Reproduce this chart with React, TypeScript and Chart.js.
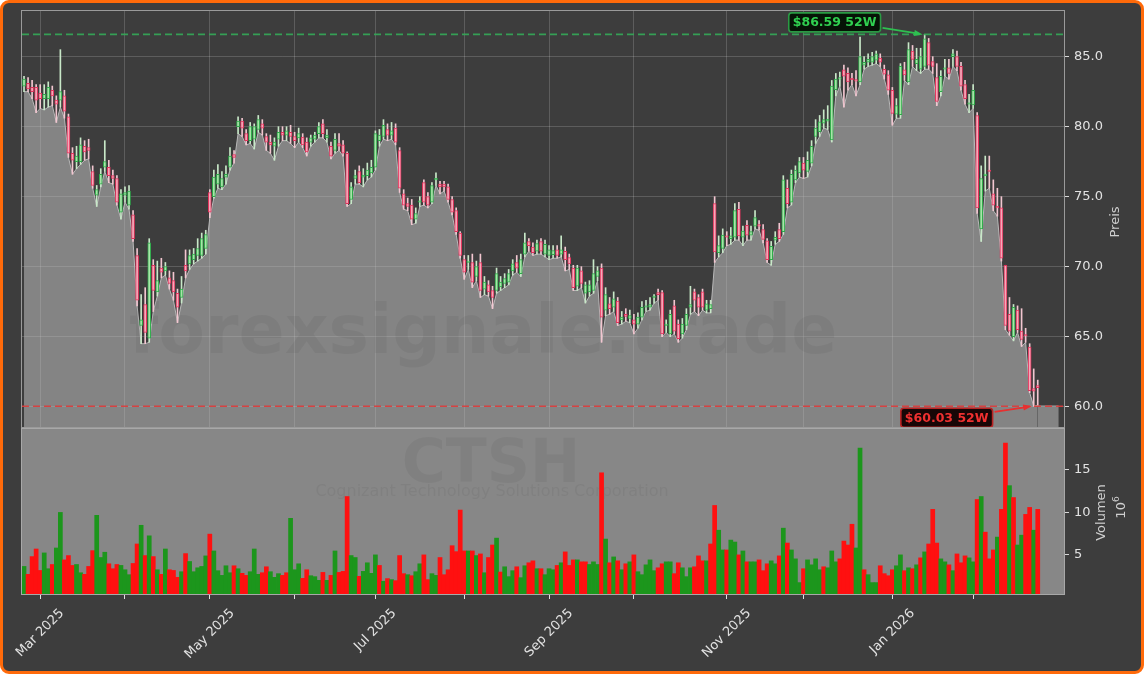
import React, { useEffect, useRef } from 'react';
import { Chart, registerables } from 'chart.js';

Chart.register(...registerables);

const FONT = "'DejaVu Sans', sans-serif";
Chart.defaults.font.family = FONT;

// ---------- calendar ----------
const START_DATE = '2025-02-25';
const END_DATE = '2026-02-25';
const HOLIDAYS = ['2025-04-18', '2025-05-26', '2025-06-19', '2025-07-04', '2025-09-01', '2025-11-27', '2025-12-25', '2026-01-01', '2026-01-19', '2026-02-16'];
const MONTHS = ['Jan', 'Feb', 'Mar', 'Apr', 'May', 'Jun', 'Jul', 'Aug', 'Sep', 'Oct', 'Nov', 'Dec'];
const MAJOR_TICK_LABELS = ['Mar 2025', 'May 2025', 'Jul 2025', 'Sep 2025', 'Nov 2025', 'Jan 2026'];

// ---------- OHLC (USD) ----------
const OPEN = [
  82.9, 83.1, 82.8, 82.8, 82.4, 82.0, 82.0, 82.6, 81.9, 81.9,
  82.2, 80.7, 78.1, 77.5, 77.5, 78.6, 78.5, 76.8, 75.1, 75.9,
  77.1, 77.1, 76.5, 76.3, 73.9, 75.1, 74.4, 73.7, 70.8, 65.8,
  67.3, 64.9, 70.1, 68.2, 69.9, 69.7, 69.2, 69.0, 68.1, 67.8,
  70.1, 70.2, 70.5, 70.8, 70.8, 71.3, 75.3, 75.0, 75.9, 75.7,
  76.4, 77.1, 78.0, 80.0, 80.4, 79.5, 79.0, 79.1, 79.8, 80.2,
  79.3, 78.9, 78.6, 79.1, 79.6, 79.4, 79.6, 79.3, 79.2, 79.25,
  78.9, 78.9, 79.1, 79.5, 80.2, 79.2, 78.6, 78.3, 78.8, 78.7,
  78.1, 74.8, 76.3, 76.8, 76.4, 76.5, 76.7, 77.1, 79.0, 79.3,
  79.8, 79.4, 79.9, 78.3, 75.2, 74.5, 74.4, 73.4, 74.6, 76.0,
  75.0, 74.6, 76.2, 75.9, 75.9, 75.7, 74.8, 74.0, 72.4, 70.5,
  70.3, 70.3, 69.3, 70.3, 68.4, 68.7, 68.3, 68.3, 68.55, 68.8,
  68.9, 69.7, 70.3, 69.5, 70.9, 71.8, 71.4, 71.1, 71.8, 70.9,
  70.8, 70.85, 71.2, 70.9, 71.1, 70.65, 69.9, 68.6, 69.7, 68.1,
  68.2, 68.3, 69.3, 69.9, 66.9, 67.35, 67.1, 67.55, 66.2, 66.6,
  66.3, 66.2, 65.9, 66.4, 67.1, 67.1, 67.8, 68.15, 68.15, 65.8,
  65.2, 67.2, 65.9, 65.2, 65.8, 67.1, 68.2, 67.8, 68.2, 66.9,
  67.0, 74.5, 71.0, 71.3, 72.2, 72.0, 72.1, 74.1, 72.1, 72.95,
  72.25, 72.9, 73.0, 72.65, 71.85, 70.5, 71.9, 72.65, 72.5, 75.6,
  74.6, 76.2, 76.7, 77.4, 76.8, 77.4, 79.3, 79.65, 80.25, 80.4,
  79.05, 82.65, 83.4, 84.05, 83.8, 83.4, 83.3, 83.2, 84.4, 84.6,
  84.6, 84.75, 84.9, 84.1, 83.7, 82.6, 80.9, 80.85, 84.05, 83.2,
  85.4, 84.5, 84.1, 84.3, 86.0, 84.65, 83.5, 82.5, 84.1, 84.2,
  85.0, 85.0, 84.3, 83.0, 81.6, 81.55, 80.8, 72.7, 76.5, 76.9,
  75.2, 74.3, 74.2, 70.1, 66.6, 65.0, 66.9, 65.4, 65.15, 64.25,
  61.3, 61.5,
];
const HIGH = [
  83.6, 83.5, 83.3, 83.0, 83.0, 83.0, 83.2, 82.9, 82.2, 85.5,
  82.6, 80.9, 78.5, 78.6, 79.2, 79.0, 79.1, 77.2, 75.8, 77.0,
  79.0, 77.6, 76.9, 76.5, 75.5, 75.7, 75.8, 74.0, 71.3, 68.0,
  68.5, 72.0, 70.5, 70.4, 70.6, 70.3, 69.7, 69.6, 68.4, 69.3,
  71.2, 71.2, 71.3, 72.0, 72.4, 72.6, 75.5, 76.9, 77.3, 76.8,
  77.2, 78.5, 78.3, 80.7, 80.6, 79.8, 80.3, 80.2, 80.8, 80.5,
  79.5, 79.4, 79.2, 80.0, 80.0, 80.0, 80.1, 79.6, 79.9, 79.5,
  79.2, 79.4, 79.6, 80.3, 80.5, 79.8, 78.9, 79.5, 79.5, 79.0,
  78.2, 76.0, 76.9, 77.2, 77.0, 77.4, 77.6, 79.7, 79.8, 80.5,
  80.2, 80.3, 80.2, 78.5, 75.5, 74.9, 74.8, 74.2, 75.0, 76.2,
  75.3, 76.0, 76.7, 76.1, 76.1, 75.9, 75.0, 74.2, 72.5, 70.8,
  70.8, 70.9, 70.4, 70.9, 69.3, 69.0, 68.6, 69.9, 69.3, 69.5,
  69.8, 70.5, 70.8, 70.9, 72.4, 72.0, 71.7, 71.9, 72.0, 71.9,
  71.5, 71.5, 71.5, 72.2, 71.4, 70.9, 70.1, 70.1, 70.0, 68.9,
  69.0, 70.5, 70.0, 70.2, 68.5, 67.8, 68.2, 67.8, 66.8, 67.0,
  66.9, 66.6, 66.7, 67.5, 67.6, 67.8, 68.0, 68.4, 68.3, 66.2,
  66.9, 67.6, 66.2, 66.3, 67.0, 68.6, 68.4, 68.0, 68.4, 67.6,
  67.6, 75.0, 72.2, 72.7, 72.5, 72.8, 74.5, 74.6, 72.9, 73.3,
  72.9, 74.0, 73.3, 73.0, 72.0, 71.8, 72.5, 73.1, 76.5, 76.2,
  76.9, 77.2, 77.8, 77.8, 78.2, 79.0, 80.5, 80.8, 81.2, 81.5,
  83.3, 83.8, 83.9, 84.4, 84.2, 83.8, 84.0, 86.4, 85.0, 85.2,
  85.3, 85.4, 85.2, 84.4, 84.0, 82.8, 82.0, 84.5, 84.6, 86.0,
  85.8, 85.6, 85.6, 86.59, 86.3, 85.0, 84.5, 84.0, 84.8, 84.8,
  85.5, 85.4, 84.6, 83.3, 82.3, 83.0, 81.0, 77.2, 77.9, 77.9,
  76.2, 75.6, 75.0, 70.1, 67.8, 67.3, 67.2, 67.0, 65.6, 64.5,
  62.7, 61.9,
];
const LOW = [
  82.5, 82.5, 82.0, 81.0, 81.3, 81.2, 81.4, 81.5, 80.3, 81.4,
  80.6, 77.8, 76.6, 77.0, 77.3, 77.6, 77.7, 75.6, 74.3, 75.7,
  76.8, 76.0, 75.9, 74.4, 73.4, 74.6, 74.1, 71.8, 67.2, 64.5,
  64.5, 64.6, 66.8, 67.9, 69.2, 69.4, 68.4, 67.6, 66.0, 67.4,
  69.2, 69.8, 70.2, 70.4, 70.6, 70.9, 73.5, 74.9, 75.6, 75.5,
  75.9, 76.9, 77.4, 79.5, 79.3, 78.7, 78.8, 78.4, 79.6, 79.4,
  78.3, 78.1, 77.6, 78.6, 79.0, 79.0, 78.8, 78.5, 78.9, 78.5,
  77.9, 78.6, 78.9, 79.2, 79.2, 78.9, 77.7, 78.1, 78.3, 77.9,
  74.3, 74.5, 75.9, 75.9, 75.7, 76.2, 76.4, 76.9, 78.6, 79.1,
  79.0, 79.1, 78.7, 75.3, 74.1, 74.0, 73.0, 73.1, 74.3, 74.4,
  74.2, 74.5, 75.8, 75.2, 75.4, 74.6, 73.7, 72.3, 70.6, 69.1,
  69.8, 68.5, 69.0, 67.8, 68.0, 67.9, 67.0, 68.1, 68.3, 68.5,
  68.7, 69.4, 69.6, 69.3, 70.7, 71.1, 70.8, 70.9, 70.9, 70.7,
  70.5, 70.6, 70.6, 70.7, 69.7, 69.8, 68.3, 68.3, 68.5, 67.4,
  67.9, 68.1, 69.0, 64.6, 66.5, 66.6, 66.8, 65.8, 65.9, 66.1,
  66.0, 65.2, 65.6, 66.2, 66.8, 66.9, 67.4, 67.6, 65.0, 65.3,
  65.0, 65.2, 64.6, 64.9, 65.5, 66.6, 66.8, 66.5, 66.9, 66.7,
  66.7, 70.3, 70.7, 71.0, 71.5, 71.6, 71.9, 71.9, 71.5, 71.9,
  71.9, 72.7, 72.6, 71.7, 70.3, 70.1, 71.6, 71.8, 72.3, 74.2,
  74.4, 76.0, 76.4, 76.3, 76.4, 77.2, 78.8, 79.3, 79.9, 79.8,
  78.9, 82.2, 82.9, 81.4, 82.6, 83.0, 82.2, 83.0, 84.1, 84.3,
  84.4, 84.5, 84.3, 83.4, 82.3, 80.1, 80.6, 80.6, 83.3, 83.0,
  84.3, 84.0, 83.8, 84.1, 84.1, 83.8, 81.5, 82.2, 83.6, 83.4,
  84.3, 84.0, 82.6, 81.6, 81.0, 81.3, 73.8, 71.8, 75.4, 75.6,
  74.0, 73.6, 70.4, 65.5, 65.1, 64.7, 65.3, 64.3, 64.6, 61.0,
  60.03, 60.1,
];
const CLOSE = [
  83.4, 82.7, 82.5, 81.9, 82.0, 82.3, 82.8, 82.2, 81.6, 82.5,
  81.1, 78.1, 77.6, 77.9, 78.7, 78.2, 78.3, 75.8, 75.5, 76.6,
  77.5, 76.5, 76.3, 74.6, 75.2, 75.3, 75.4, 72.0, 67.6, 66.2,
  65.3, 71.7, 68.3, 69.0, 69.6, 70.0, 68.8, 68.2, 67.1, 68.4,
  69.7, 70.8, 70.9, 71.3, 72.0, 72.3, 73.9, 76.4, 76.6, 76.3,
  76.6, 77.9, 77.8, 80.4, 79.9, 79.0, 80.0, 80.0, 80.5, 79.9,
  78.9, 78.7, 78.9, 79.6, 79.4, 79.7, 79.3, 79.0, 79.5, 78.7,
  78.2, 79.2, 79.4, 80.0, 79.5, 79.4, 77.9, 79.1, 78.6, 78.1,
  74.5, 75.7, 76.5, 76.0, 76.55, 76.9, 77.1, 79.5, 79.4, 80.1,
  79.4, 79.7, 78.9, 75.6, 74.4, 74.3, 73.4, 73.8, 74.7, 74.6,
  74.4, 75.8, 76.3, 75.7, 75.7, 74.8, 73.9, 72.5, 70.8, 69.6,
  70.4, 68.9, 70.0, 68.3, 68.9, 68.2, 67.8, 69.5, 68.9, 69.15,
  69.5, 70.2, 69.9, 70.5, 71.7, 71.5, 71.0, 71.65, 71.1, 71.6,
  71.2, 71.15, 70.8, 71.2, 70.5, 70.2, 68.5, 69.9, 68.8, 68.7,
  68.7, 69.5, 69.7, 66.4, 68.0, 67.0, 67.7, 66.0, 66.4, 66.45,
  66.5, 65.9, 66.4, 67.1, 67.2, 67.3, 67.9, 68.0, 65.2, 65.9,
  66.6, 65.4, 64.85, 65.9, 66.6, 67.3, 67.6, 67.1, 67.1, 67.35,
  67.3, 71.05, 71.5, 72.25, 72.1, 72.2, 74.0, 72.2, 72.55, 72.25,
  72.5, 73.5, 72.9, 71.95, 70.5, 71.45, 72.1, 72.0, 76.2, 74.5,
  76.6, 76.9, 77.5, 76.9, 77.6, 78.6, 79.9, 80.35, 80.5, 80.55,
  82.9, 83.4, 83.5, 83.6, 83.2, 83.35, 83.25, 85.0, 84.6, 84.8,
  85.0, 85.2, 84.6, 83.75, 82.6, 80.95, 81.5, 84.3, 83.7, 85.5,
  84.8, 84.8, 85.0, 86.27, 84.4, 84.3, 81.8, 83.6, 84.2, 83.8,
  85.2, 84.3, 82.9, 82.0, 81.7, 82.6, 74.2, 76.3, 76.6, 76.8,
  74.4, 74.2, 70.6, 65.8, 65.4, 67.1, 65.5, 64.8, 65.05, 61.15,
  61.1, 61.35,
];

// ---------- volume (millions) ----------
const VOLUME = [
  3.64, 2.71, 4.80, 5.69, 3.17, 5.23, 3.37, 3.87, 5.81, 9.99,
  4.41, 4.92, 3.76, 3.87, 2.90, 2.71, 3.64, 5.50, 9.65, 4.69,
  5.31, 3.95, 3.37, 3.87, 3.76, 3.25, 2.67, 3.99, 6.28, 8.48,
  4.92, 7.24, 4.80, 3.25, 2.71, 5.69, 3.25, 3.17, 2.36, 3.02,
  5.15, 4.22, 3.02, 3.48, 3.64, 4.88, 7.44, 5.46, 3.14, 2.59,
  3.72, 2.90, 3.72, 3.37, 2.83, 2.59, 3.02, 5.69, 2.71, 2.90,
  3.60, 3.02, 2.36, 2.79, 2.59, 2.90, 9.30, 3.25, 3.95, 2.24,
  3.25, 2.55, 2.44, 2.01, 2.94, 2.01, 2.59, 5.46, 2.94, 3.06,
  11.86, 4.92, 4.69, 2.48, 3.06, 4.07, 2.83, 5.00, 3.76, 1.90,
  2.21, 2.09, 1.97, 4.92, 2.79, 2.67, 2.55, 3.02, 3.95, 5.00,
  2.09, 2.79, 2.59, 4.69, 2.67, 3.25, 6.08, 5.38, 10.27, 5.46,
  5.46, 5.46, 4.92, 5.11, 2.90, 4.69, 6.16, 6.97, 2.98, 3.60,
  2.44, 3.14, 3.60, 2.32, 3.72, 4.07, 4.30, 3.37, 3.37, 2.67,
  3.37, 3.25, 3.76, 4.07, 5.35, 3.76, 4.41, 4.41, 4.18, 4.18,
  3.87, 4.18, 3.87, 14.65, 6.86, 4.07, 4.76, 4.30, 3.25, 3.95,
  4.18, 5.00, 3.02, 2.67, 3.83, 4.41, 3.14, 3.48, 3.95, 4.18,
  4.18, 2.79, 4.07, 3.48, 2.44, 3.48, 3.60, 4.88, 4.30, 4.30,
  6.28, 10.81, 7.90, 5.58, 5.58, 6.74, 6.51, 5.00, 5.46, 4.18,
  4.18, 4.18, 4.41, 3.14, 3.95, 4.30, 3.95, 4.88, 8.14, 6.39,
  5.58, 4.53, 1.74, 3.37, 4.41, 3.83, 4.53, 3.25, 3.60, 3.48,
  5.46, 4.18, 4.53, 6.62, 6.16, 8.60, 5.81, 17.55, 3.25, 2.67,
  1.74, 1.74, 3.72, 2.79, 2.55, 3.25, 3.72, 5.00, 3.14, 3.48,
  3.37, 3.83, 4.65, 5.35, 6.28, 10.35, 6.39, 4.53, 4.18, 3.83,
  3.14, 5.11, 4.07, 4.88, 4.65, 4.18, 11.51, 11.86, 7.67, 4.53,
  5.58, 7.09, 10.35, 18.14, 13.14, 11.74, 6.16, 7.32, 9.76, 10.58,
  7.90, 10.35,
];
// g = green (up) bar, r = red (down) bar
const VOLUME_DIR = [
  'grrrrggrgg', 'rrrggrrrgg', 'grrrgggrrg', 'rgrgrgrrrg', 'rgggggrggg',
  'ggrgrrgggr', 'rgggrrgggr', 'rgggrgrgrr', 'rggrggggrg', 'rgrrrgrggr',
  'rggrrrrrrr', 'grgrgrrgrg', 'ggrggrrgrg', 'ggrgrrrgrr', 'gggrgrgrgr',
  'grgggggrrg', 'grrgggrrrg', 'rrggrggrgr', 'ggrrrggrgr', 'gggrggggrg',
  'ggrrrrggrg', 'ggrrrrggrg', 'rgrgrrrggr', 'grrrggrgrr', 'rgrrgrggrr',
  'gr',
].join('');

const PRICE_TICKS = [60, 65, 70, 75, 80, 85];
const VOLUME_TICKS = [5, 10, 15];
const PRICE_MIN = 58.55;
const PRICE_MAX = 88.26;
const VOLUME_MIN = 0.4;
const VOLUME_MAX = 19.8;
const X_MIN = -0.5;
const X_MAX = 257.5;

const TICKER = 'CTSH';
const COMPANY = 'Cognizant Technology Solutions Corporation';
const WATERMARK = 'forexsignale.trade';
const PRICE_TITLE = 'Preis';
const VOLUME_TITLE = 'Volumen';

// ---------- colours ----------
const BG = '#3d3d3d';
const GRID = 'rgba(255,255,255,0.17)';
const UP_FILL = '#a9e4a9';
const UP_EDGE = '#2faa4a';
const DOWN_FILL = '#f6a9ba';
const DOWN_EDGE = '#e2335c';
const UP_WICK = '#c8e8c8';
const DOWN_WICK = '#f2c6d0';
const VOL_UP = '#1c961c';
const VOL_DOWN = '#ff1010';

function buildTradingDays(): string[] {
  const out: string[] = [];
  const d = new Date(START_DATE + 'T12:00:00Z');
  const end = new Date(END_DATE + 'T12:00:00Z');
  while (d.getTime() <= end.getTime()) {
    const wd = d.getUTCDay();
    const iso = d.toISOString().slice(0, 10);
    if (wd !== 0 && wd !== 6 && HOLIDAYS.indexOf(iso) < 0) out.push(iso);
    d.setUTCDate(d.getUTCDate() + 1);
  }
  return out;
}

const DAYS = buildTradingDays();

function monthStarts(): { idx: number; label: string }[] {
  const res: { idx: number; label: string }[] = [];
  for (let i = 1; i < DAYS.length; i++) {
    if (DAYS[i].slice(0, 7) !== DAYS[i - 1].slice(0, 7)) {
      const y = DAYS[i].slice(0, 4);
      const m = parseInt(DAYS[i].slice(5, 7), 10);
      res.push({ idx: i, label: `${MONTHS[m - 1]} ${y}` });
    }
  }
  return res;
}
const MONTH_TICKS = monthStarts();

function roundRect(ctx: CanvasRenderingContext2D, x: number, y: number, w: number, h: number, r: number) {
  ctx.beginPath();
  ctx.moveTo(x + r, y);
  ctx.lineTo(x + w - r, y);
  ctx.quadraticCurveTo(x + w, y, x + w, y + r);
  ctx.lineTo(x + w, y + h - r);
  ctx.quadraticCurveTo(x + w, y + h, x + w - r, y + h);
  ctx.lineTo(x + r, y + h);
  ctx.quadraticCurveTo(x, y + h, x, y + h - r);
  ctx.lineTo(x, y + r);
  ctx.quadraticCurveTo(x, y, x + r, y);
  ctx.closePath();
}

function drawTag(ctx: CanvasRenderingContext2D, text: string, cx: number, cy: number, color: string, fill: string, stroke: string) {
  ctx.save();
  ctx.font = `bold 12.5px ${FONT}`;
  const w = ctx.measureText(text).width + 8;
  const h = 19;
  roundRect(ctx, cx - w / 2, cy - h / 2, w, h, 3);
  ctx.fillStyle = fill;
  ctx.fill();
  ctx.lineWidth = 1.6;
  ctx.strokeStyle = stroke;
  ctx.stroke();
  ctx.fillStyle = color;
  ctx.textAlign = 'center';
  ctx.textBaseline = 'middle';
  ctx.fillText(text, cx, cy + 0.5);
  ctx.restore();
  return w;
}

function drawArrow(ctx: CanvasRenderingContext2D, x1: number, y1: number, x2: number, y2: number, color: string) {
  const ang = Math.atan2(y2 - y1, x2 - x1);
  const hl = 9;
  ctx.save();
  ctx.strokeStyle = color;
  ctx.fillStyle = color;
  ctx.lineWidth = 1.8;
  ctx.beginPath();
  ctx.moveTo(x1, y1);
  ctx.lineTo(x2 - Math.cos(ang) * hl * 0.8, y2 - Math.sin(ang) * hl * 0.8);
  ctx.stroke();
  ctx.beginPath();
  ctx.moveTo(x2, y2);
  ctx.lineTo(x2 - hl * Math.cos(ang - 0.35), y2 - hl * Math.sin(ang - 0.35));
  ctx.lineTo(x2 - hl * Math.cos(ang + 0.35), y2 - hl * Math.sin(ang + 0.35));
  ctx.closePath();
  ctx.fill();
  ctx.restore();
}

const isUp = (i: number) => CLOSE[i] >= OPEN[i];

const fitY = (s: any) => {
  s.width = 80;
  s.paddingTop = 0;
  s.paddingBottom = 0;
  s.paddingLeft = 0;
  s.paddingRight = 0;
};

export default function App() {
  const priceRef = useRef<HTMLCanvasElement>(null);
  const volRef = useRef<HTMLCanvasElement>(null);

  useEffect(() => {
    document.body.style.margin = '0';
    const n = CLOSE.length;
    const hi = Math.max(...HIGH);
    const lo = Math.min(...LOW);
    const iHi = HIGH.indexOf(hi);
    const iLo = LOW.indexOf(lo);

    const pricePlugin = {
      id: 'pricePlugin',
      afterDatasetDraw(chart: any, args: any) {
        if (args.index !== 2) return;
        const ctx = chart.ctx as CanvasRenderingContext2D;
        ctx.save();
        ctx.font = `bold 68px ${FONT}`;
        ctx.fillStyle = 'rgba(0,0,0,0.05)';
        ctx.textAlign = 'center';
        ctx.textBaseline = 'alphabetic';
        ctx.fillText(WATERMARK, 483, 353);
        ctx.restore();
      },
      afterDatasetsDraw(chart: any) {
        const ctx = chart.ctx as CanvasRenderingContext2D;
        const ca = chart.chartArea;
        const xs = chart.scales.x;
        const ys = chart.scales.y;
        const yHi = ys.getPixelForValue(hi);
        const yLo = ys.getPixelForValue(lo);
        ctx.save();
        ctx.setLineDash([7, 4]);
        ctx.lineWidth = 1.6;
        ctx.strokeStyle = 'rgba(52,170,88,0.9)';
        ctx.beginPath();
        ctx.moveTo(ca.left, yHi);
        ctx.lineTo(ca.right, yHi);
        ctx.stroke();
        ctx.strokeStyle = 'rgba(222,58,58,0.9)';
        ctx.beginPath();
        ctx.moveTo(ca.left, yLo);
        ctx.lineTo(ca.right, yLo);
        ctx.stroke();
        ctx.restore();

        // 52W high tag
        const txHi = xs.getPixelForValue(iHi);
        const cxHi = txHi - 90;
        const cyHi = yHi - 12;
        const wHi = drawTag(ctx, `$${hi.toFixed(2)} 52W`, cxHi, cyHi, '#30d050', '#061406', '#2a9a44');
        drawArrow(ctx, cxHi + wHi / 2 + 2, cyHi + 5.5, txHi - 2, yHi, '#2ec050');

        // 52W low tag
        const txLo = xs.getPixelForValue(iLo);
        const cxLo = txLo - 87;
        const cyLo = yLo + 11.5;
        const wLo = drawTag(ctx, `$${lo.toFixed(2)} 52W`, cxLo, cyLo, '#f03030', '#180606', '#b82424');
        drawArrow(ctx, cxLo + wLo / 2 + 2, cyLo - 6, txLo - 2, yLo, '#e83030');
      },
      afterDraw(chart: any) {
        const ctx = chart.ctx as CanvasRenderingContext2D;
        const ca = chart.chartArea;
        ctx.save();
        ctx.strokeStyle = '#9a9a9a';
        ctx.lineWidth = 1;
        ctx.strokeRect(ca.left - 0.5, ca.top - 0.5, ca.right - ca.left + 1, ca.bottom - ca.top + 1);
        ctx.translate(ca.right + 52, (ca.top + ca.bottom) / 2 + 3);
        ctx.rotate(-Math.PI / 2);
        ctx.font = `13px ${FONT}`;
        ctx.fillStyle = '#cfcfcf';
        ctx.textAlign = 'center';
        ctx.textBaseline = 'middle';
        ctx.fillText(PRICE_TITLE, 0, 0);
        ctx.restore();
      },
    };

    const priceChart = new Chart(priceRef.current as HTMLCanvasElement, {
      type: 'bar',
      data: {
        datasets: [
          {
            type: 'bar',
            label: 'body',
            data: OPEN.map((o, i) => ({ x: i, y: [o, CLOSE[i]] })) as any,
            backgroundColor: OPEN.map((_, i) => (isUp(i) ? UP_FILL : DOWN_FILL)),
            borderColor: OPEN.map((_, i) => (isUp(i) ? UP_EDGE : DOWN_EDGE)),
            borderWidth: 1,
            borderSkipped: false,
            barThickness: 3,
            minBarLength: 1.5,
            grouped: false,
          } as any,
          {
            type: 'bar',
            label: 'wick',
            data: HIGH.map((h, i) => ({ x: i, y: [LOW[i], h] })) as any,
            backgroundColor: HIGH.map((_, i) => (isUp(i) ? UP_WICK : DOWN_WICK)),
            borderWidth: 0,
            barThickness: 1,
            grouped: false,
          } as any,
          {
            type: 'line',
            label: 'low',
            data: LOW.map((l, i) => ({ x: i, y: l })),
            borderColor: '#b9b9b9',
            borderWidth: 1,
            pointRadius: 0,
            tension: 0,
            fill: 'start',
            backgroundColor: 'rgba(192,192,192,0.55)',
          } as any,
          {
            type: 'line',
            label: 'tail',
            data: [
              { x: n - 1, y: LOW[n - 1] },
              { x: X_MAX - 1.3, y: LOW[n - 1] },
            ],
            borderWidth: 0,
            pointRadius: 0,
            fill: 'start',
            backgroundColor: 'rgba(192,192,192,0.55)',
          } as any,
        ],
      },
      options: {
        responsive: false,
        animation: false,
        events: [],
        layout: { padding: { left: 22, top: 11, right: 0, bottom: 3 }, autoPadding: false } as any,
        plugins: { legend: { display: false }, tooltip: { enabled: false } },
        scales: {
          x: {
            type: 'linear',
            min: X_MIN,
            max: X_MAX,
            offset: false,
            grid: { color: GRID, drawTicks: false, offset: false, lineWidth: 1 },
            border: { display: false },
            ticks: { display: false, autoSkip: false },
            afterBuildTicks: (s: any) => {
              s.ticks = MONTH_TICKS.map((t) => ({ value: t.idx }));
            },
            afterFit: (s: any) => {
              s.height = 0;
              s.paddingLeft = 0;
              s.paddingRight = 0;
            },
          } as any,
          y: {
            type: 'linear',
            position: 'right',
            min: PRICE_MIN,
            max: PRICE_MAX,
            grid: { color: GRID, tickColor: '#d8d8d8', tickLength: 5, lineWidth: 1 },
            border: { display: false },
            ticks: {
              color: '#e2e2e2',
              font: { family: FONT, size: 13 },
              padding: 5,
              callback: (v: any) => Number(v).toFixed(1),
            },
            afterBuildTicks: (s: any) => {
              s.ticks = PRICE_TICKS.map((v) => ({ value: v }));
            },
            afterFit: fitY,
          } as any,
        },
      },
      plugins: [pricePlugin],
    });

    const volPlugin = {
      id: 'volPlugin',
      beforeDatasetsDraw(chart: any) {
        const ctx = chart.ctx as CanvasRenderingContext2D;
        const ca = chart.chartArea;
        ctx.save();
        ctx.fillStyle = '#878787';
        ctx.fillRect(ca.left, ca.top, ca.right - ca.left, ca.bottom - ca.top);
        ctx.fillStyle = 'rgba(0,0,0,0.05)';
        ctx.textAlign = 'center';
        ctx.textBaseline = 'alphabetic';
        ctx.font = `bold 60px ${FONT}`;
        ctx.fillText(TICKER, 491, 482 - 427);
        ctx.font = `16px ${FONT}`;
        ctx.fillText(COMPANY, 492, 496 - 427);
        ctx.restore();
      },
      afterDraw(chart: any) {
        const ctx = chart.ctx as CanvasRenderingContext2D;
        const ca = chart.chartArea;
        const xs = chart.scales.x;
        ctx.save();
        ctx.strokeStyle = '#a8a8a8';
        ctx.lineWidth = 1;
        ctx.strokeRect(ca.left - 0.5, ca.top - 0.5, ca.right - ca.left + 1, ca.bottom - ca.top + 1);
        ctx.restore();

        // x labels (rotated 45°, centred on the tick like matplotlib)
        ctx.save();
        ctx.font = `13px ${FONT}`;
        ctx.fillStyle = '#e2e2e2';
        ctx.textAlign = 'center';
        ctx.textBaseline = 'middle';
        MONTH_TICKS.forEach((t) => {
          if (MAJOR_TICK_LABELS.indexOf(t.label) < 0) return;
          const px = xs.getPixelForValue(t.idx);
          const w = ctx.measureText(t.label).width;
          const half = ((w + 15) * Math.SQRT1_2) / 2;
          const cy = ca.bottom + 12 + half;
          ctx.save();
          ctx.translate(px, cy);
          ctx.rotate(-Math.PI / 4);
          ctx.fillText(t.label, 0, 0);
          ctx.restore();
        });
        ctx.restore();

        // titles
        const mid = (ca.top + ca.bottom) / 2;
        ctx.save();
        ctx.fillStyle = '#cfcfcf';
        ctx.translate(ca.right + 38, mid + 1);
        ctx.rotate(-Math.PI / 2);
        ctx.font = `13px ${FONT}`;
        ctx.textAlign = 'center';
        ctx.textBaseline = 'middle';
        ctx.fillText(VOLUME_TITLE, 0, 0);
        ctx.restore();

        ctx.save();
        ctx.fillStyle = '#cfcfcf';
        ctx.translate(ca.right + 58, mid - 4);
        ctx.rotate(-Math.PI / 2);
        ctx.font = `13px ${FONT}`;
        const w1 = ctx.measureText('10').width;
        ctx.font = `9px ${FONT}`;
        const w2 = ctx.measureText('6').width;
        const start = -(w1 + w2) / 2;
        ctx.textAlign = 'left';
        ctx.textBaseline = 'middle';
        ctx.font = `13px ${FONT}`;
        ctx.fillText('10', start, 0);
        ctx.font = `9px ${FONT}`;
        ctx.fillText('6', start + w1, -5);
        ctx.restore();
      },
    };

    const volChart = new Chart(volRef.current as HTMLCanvasElement, {
      type: 'bar',
      data: {
        datasets: [
          {
            label: 'Volumen',
            data: VOLUME.map((v, i) => ({ x: i, y: v })) as any,
            backgroundColor: VOLUME.map((_, i) => (VOLUME_DIR[i] === 'g' ? VOL_UP : VOL_DOWN)),
            borderWidth: 0,
            barPercentage: 1,
            categoryPercentage: 1,
            grouped: false,
          } as any,
        ],
      },
      options: {
        responsive: false,
        animation: false,
        events: [],
        layout: { padding: { left: 22, top: 2, right: 0, bottom: 0 }, autoPadding: false } as any,
        plugins: { legend: { display: false }, tooltip: { enabled: false } },
        scales: {
          x: {
            type: 'linear',
            min: X_MIN,
            max: X_MAX,
            offset: false,
            grid: { drawOnChartArea: false, drawTicks: true, tickLength: 5, tickColor: '#e0e0e0', offset: false },
            border: { display: false },
            ticks: { display: false, autoSkip: false },
            afterBuildTicks: (s: any) => {
              s.ticks = MONTH_TICKS.map((t) => ({ value: t.idx }));
            },
            afterFit: (s: any) => {
              s.height = 80;
              s.paddingLeft = 0;
              s.paddingRight = 0;
            },
          } as any,
          y: {
            type: 'linear',
            position: 'right',
            min: VOLUME_MIN,
            max: VOLUME_MAX,
            grid: { drawOnChartArea: false, tickColor: '#d8d8d8', tickLength: 5 },
            border: { display: false },
            ticks: {
              color: '#e2e2e2',
              font: { family: FONT, size: 13 },
              padding: 5,
              callback: (v: any) => String(v),
            },
            afterBuildTicks: (s: any) => {
              s.ticks = VOLUME_TICKS.map((v) => ({ value: v }));
            },
            afterFit: fitY,
          } as any,
        },
      },
      plugins: [volPlugin],
    });

    return () => {
      priceChart.destroy();
      volChart.destroy();
    };
  }, []);

  return (
    <div
      style={{
        position: 'fixed',
        left: 0,
        top: 0,
        width: 1144,
        height: 674,
        boxSizing: 'border-box',
        background: BG,
        border: '3px solid #ff6a0a',
        borderRadius: 9,
      }}
    >
      <canvas
        ref={priceRef}
        width={1144}
        height={430}
        style={{ position: 'absolute', left: -3, top: -3, width: 1144, height: 430 }}
      />
      <canvas
        ref={volRef}
        width={1144}
        height={247}
        style={{ position: 'absolute', left: -3, top: 424, width: 1144, height: 247 }}
      />
    </div>
  );
}
